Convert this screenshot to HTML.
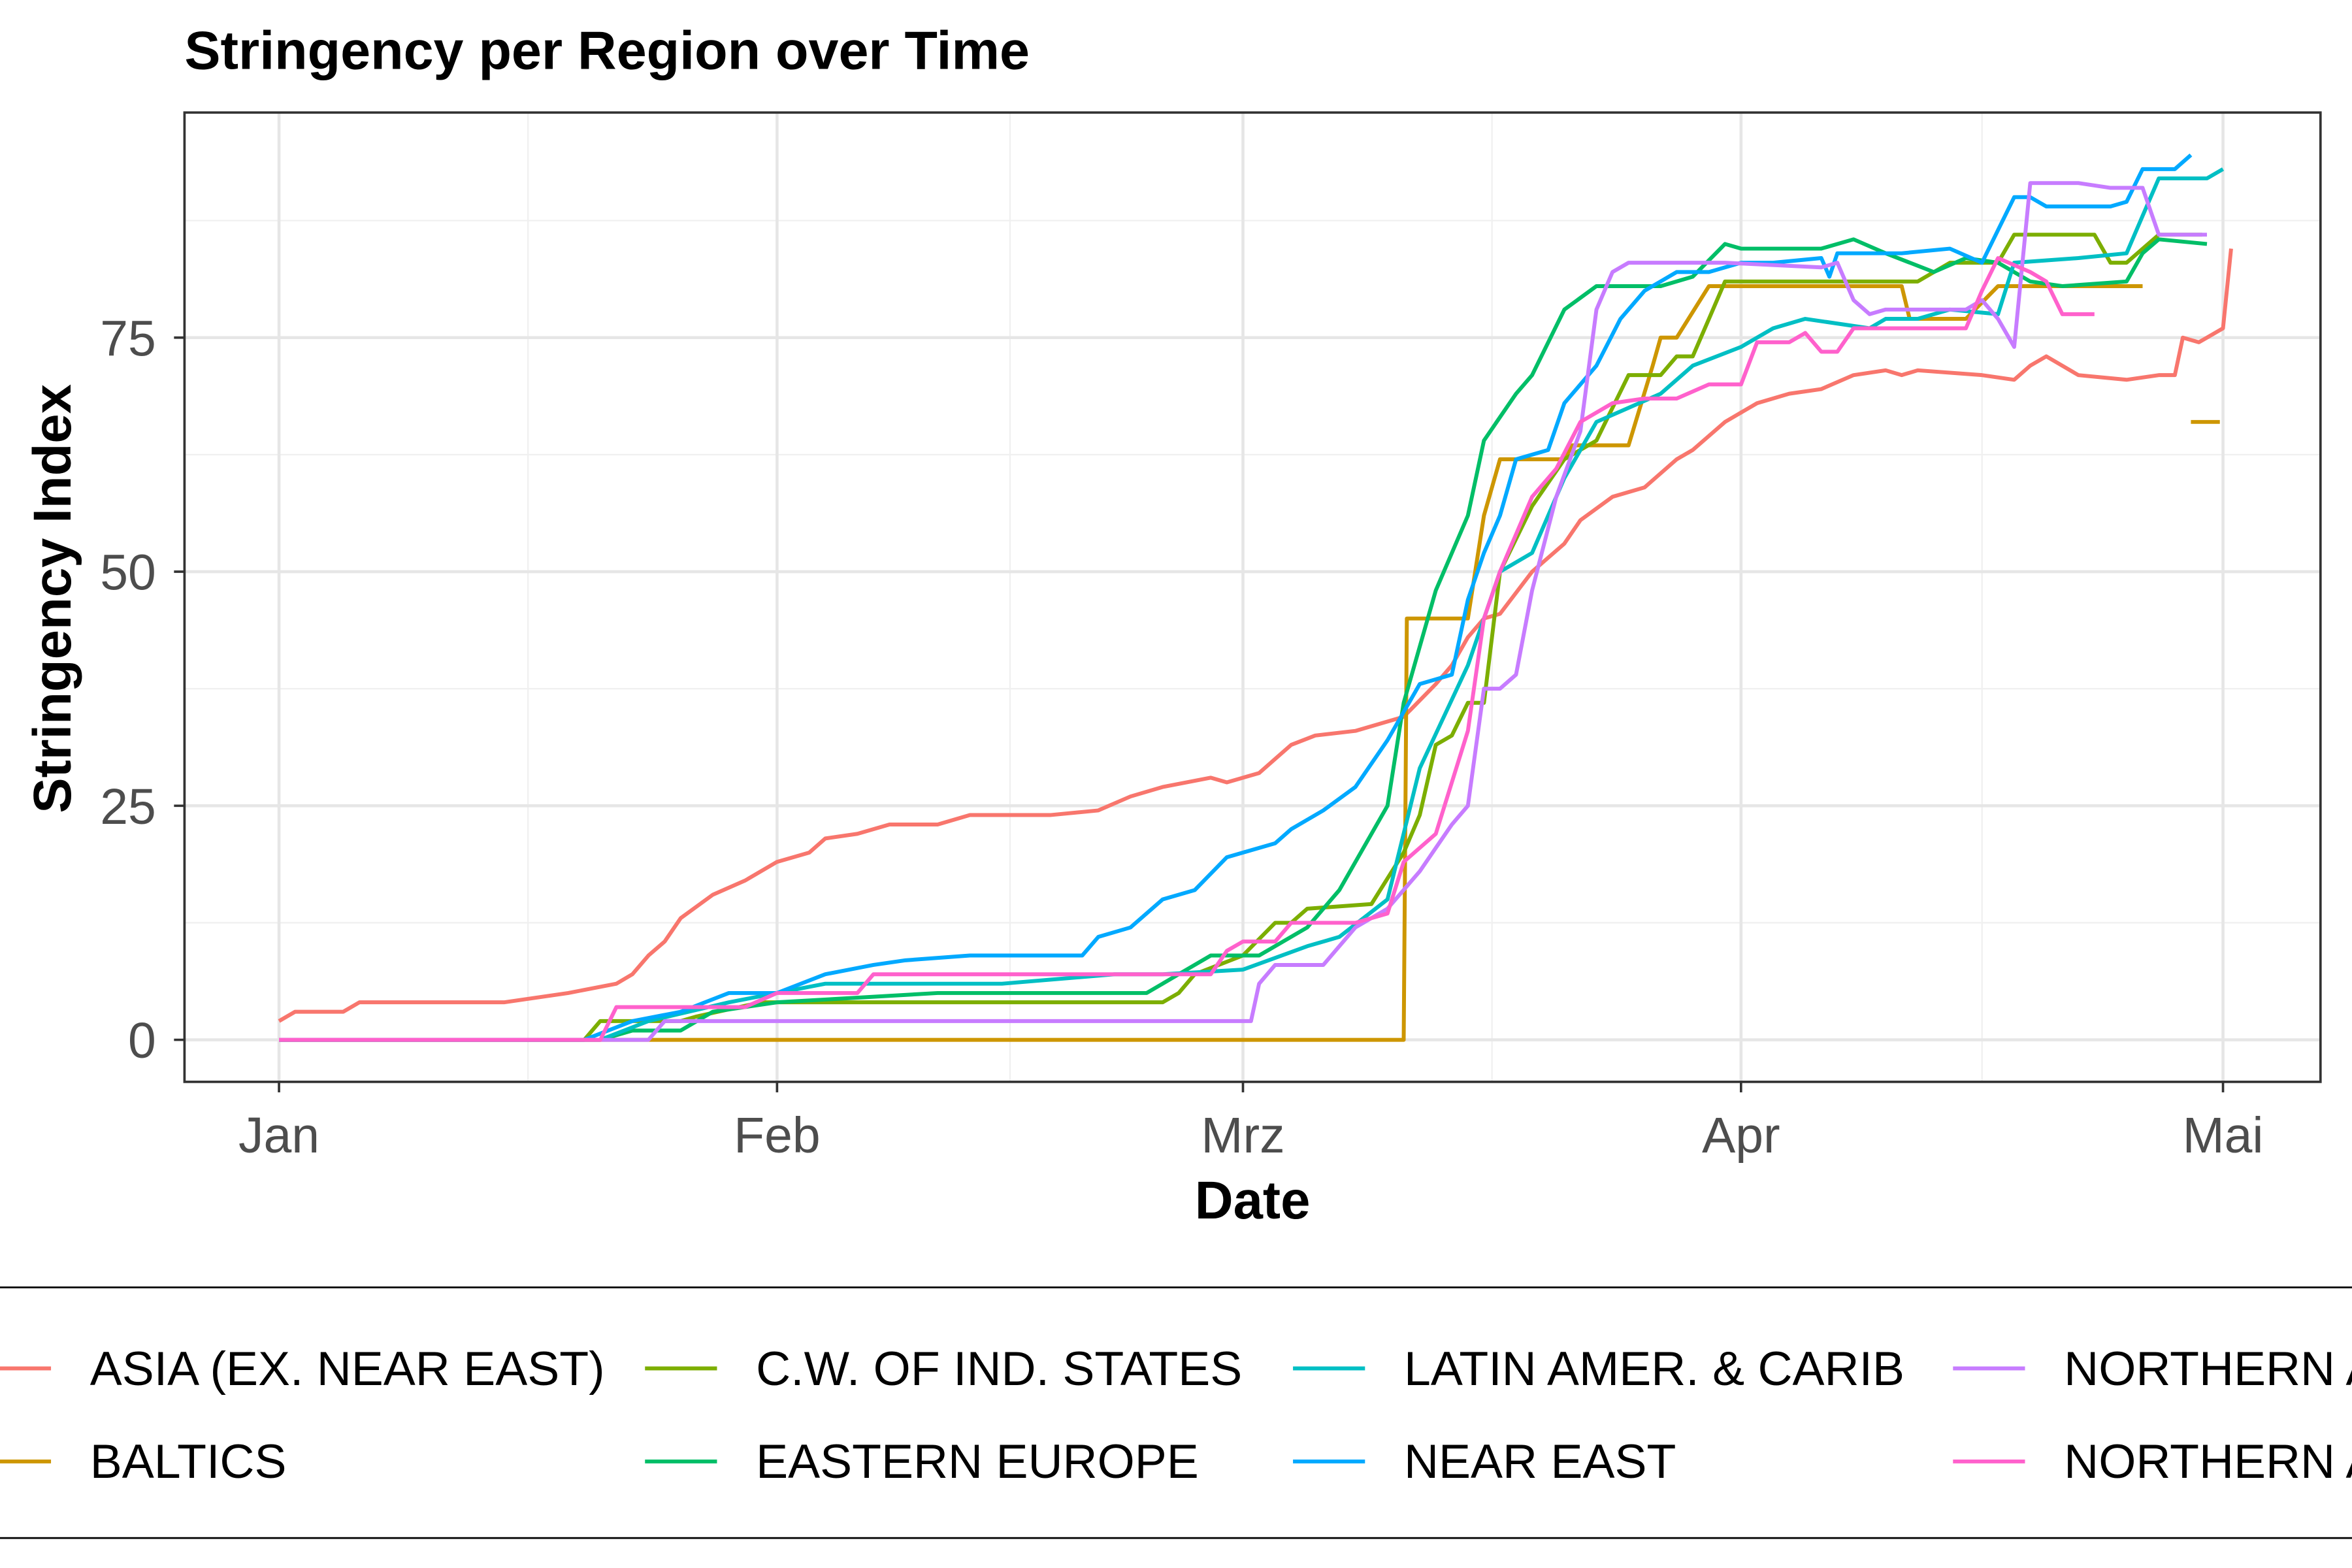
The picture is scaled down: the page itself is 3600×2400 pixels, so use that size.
<!DOCTYPE html>
<html><head><meta charset="utf-8"><style>
html,body{margin:0;padding:0;background:#fff}
svg{display:block}
text{font-family:"Liberation Sans",Arial,sans-serif}
</style></head><body>
<svg id="chart" xmlns="http://www.w3.org/2000/svg" width="3600" height="2400" viewBox="0 0 1568 1045" preserveAspectRatio="none">
<rect width="1568" height="1045" fill="#fff"/>
<text x="123" y="46" font-size="36" font-weight="bold">Stringency per Region over Time</text>
<g id="grid"></g>
<g id="series"></g>
<rect x="123" y="75" width="1424" height="646" fill="none" stroke="#333" stroke-width="1.6"/>
<g id="axes"></g>
<text x="835" y="812" font-size="35.5" font-weight="bold" text-anchor="middle">Date</text>
<text transform="translate(47,399) rotate(-90)" font-size="35.5" font-weight="bold" text-anchor="middle">Stringency Index</text>
<line x1="0" y1="858" x2="1568" y2="858" stroke="#000" stroke-width="1.2"/>
<line x1="0" y1="1025" x2="1568" y2="1025" stroke="#000" stroke-width="1.2"/>
<g id="legend"></g>
</svg>
<script>
const xTickDays=[0,31,60,91,121];
const xTickLabels=["Jan","Feb","Mrz","Apr","Mai"];
const xMinorDays=[15.5,45.5,75.5,106];
const yTicks=[0,25,50,75];
const yMinor=[12.5,37.5,62.5,87.5];
const seriesNames=["ASIA (EX. NEAR EAST)","BALTICS","C.W. OF IND. STATES","EASTERN EUROPE","LATIN AMER. & CARIB","NEAR EAST","NORTHERN AFRICA","NORTHERN AMERICA"];
const seriesColors=["#F8766D","#CD9600","#7CAE00","#00BE67","#00BFC4","#00A9FF","#C77CFF","#FF61CC"];
const asiaDays=[0,1,4,5,14,16,18,21,22,23,24,25,27,29,31,33,34,36,38,41,43,48,51,53,55,58,59,61,62,63,64.5,67,70,72,73,74,75,76,78,80,81,83,85,87,88,90,92,94,96,98,100,101,102,106,108,109,110,112,115,117,118,118.5,119.5,120,121,121.5];
const asiaVals=[2,3,3,4,4,4.5,5,6,7,9,10.5,13,15.5,17,19,20,21.5,22,23,23,24,24,24.5,26,27,28,27.5,28.5,30,31.5,32.5,33,34.5,38,40,43,45,45.5,50,53,55.5,58,59,62,63,66,68,69,69.5,71,71.5,71,71.5,71,70.5,72,73,71,70.5,71,71,75,74.5,75,76,84.5];
const balticDays=[0,70,70.2,74,75,76,80,80.5,84,85.5,86,87,89,101,101.5,105,107,116,null,119,120.8];
const balticVals=[0,0,45,45,56,62,62,63.5,63.5,72,75,75,80.5,80.5,77,77,80.5,80.5,null,66,66];
const cwDays=[0,19,20,25,26,30,55,56,57,60,62,63,64,68,70,71,72,73,74,75,76,78,80,82,84,86,87,88,89,90,102,104,107,108,113,114,115,117,119.7];
const cwVals=[0,0,2,2,2.5,4,4,5,7,9,12.5,12.5,14,14.5,20,24,31.5,32.5,36,36,50,57,62,64,71,71,73,73,77,81,81,83,83,86,86,83,83,86,86];
const eeDays=[0,20,22,25,27,31,41,54,56,58,61,64,66,69,70,72,74,75,77,78,80,82,86,88,90,91,96,98,100,103,105,107,109,111,115,116,117,120];
const eeVals=[0,0,1,1,3,4,5,5,7,9,9,12,16,25,36,48,56,64,69,71,78,80.5,80.5,81.5,85,84.5,84.5,85.5,84,82,83.5,83,81,80.5,81,84,85.5,85];
const latDays=[0,20,23,28,34,45,52,55,60,64,66,69,71,74,76,78,80,82,84,86,88,91,93,95,99,100,102,104,107,108,112,115,116,117,120,121];
const latVals=[0,0,2,4,6,6,7,7,7.5,10,11,15,29,40,50,52,60,66,67.5,69,72,74,76,77,76,77,77,78,77.5,83,83.5,84,88,92,92,93];
const neDays=[0,19,22,25,28,31,34,37,39,43,50,51,53,55,57,59,60,62,63,65,67,69,71,73,74,75,76,77,79,80,82,83.5,85,87,89,91,93,96,96.5,97,101,104,106,108,109,110,114,115,116,118,119];
const neVals=[0,0,2,3,5,5,7,8,8.5,9,9,11,12,15,16,19.5,20,21,22.5,24.5,27,32,38,39,47,52,56,62,63,68,72,77,80,82,82,83,83,83.5,81.5,84,84,84.5,83,90,90,89,89,89.5,93,93,94.5];
const naDays=[0,23,24,60.5,61,62,65,67,69,71,73,74,75,76,77,78,79.5,81,82,83,84,90,96,97,98,99,100,105,106,107,108,109,112,114,116,117,120];
const naVals=[0,0,2,2,6,8,8,12,14,18,23,25,37.5,37.5,39,48,58,65,78,82,83,83,82.5,83,79,77.5,78,78,79,77,74,91.5,91.5,91,91,86,86];
const amDays=[0,20,21,29,31,36,37,58,59,60,62,63,67,69,70,72,74,75,76,78,79.5,81,83,85,87,89,91,92,94,95,96,97,98,105,106,107,109,110,111,113];
const amVals=[0,0,3.5,3.5,5,5,7,7,9.5,10.5,10.5,12.5,12.5,13.5,19,22,33,45,50,58,61,66,68,68.5,68.5,70,70,74.5,74.5,75.5,73.5,73.5,76,76,80,83.5,82,81,77.5,77.5];
const allDays=[asiaDays,balticDays,cwDays,eeDays,latDays,neDays,naDays,amDays];
const allVals=[asiaVals,balticVals,cwVals,eeVals,latVals,neVals,naVals,amVals];

const NS="http://www.w3.org/2000/svg";
const xS=d=>186+d*(1482-186)/121;
const yS=v=>693-v*6.24;
function mk(tag,attrs,parent){const e=document.createElementNS(NS,tag);for(const k in attrs)e.setAttribute(k,attrs[k]);parent.appendChild(e);return e;}
const grid=document.getElementById('grid'),axes=document.getElementById('axes'),ser=document.getElementById('series'),leg=document.getElementById('legend');
yMinor.forEach(v=>{const l=mk('line',{x1:123,x2:1547,y1:yS(v),y2:yS(v),stroke:'#f0f0f0','stroke-width':1},grid);

});
xMinorDays.forEach(d=>{const l=mk('line',{x1:xS(d),x2:xS(d),y1:75,y2:721,stroke:'#f0f0f0','stroke-width':1},grid);

});
yTicks.forEach(v=>{const l=mk('line',{x1:123,x2:1547,y1:yS(v),y2:yS(v),stroke:'#e6e6e6','stroke-width':2},grid);


const t=mk('line',{x1:116,x2:123,y1:yS(v),y2:yS(v),stroke:'#333','stroke-width':1.6},axes);


const tx=mk('text',{x:104,y:yS(v)+12,'font-size':33.5,fill:'#4d4d4d','text-anchor':'end'},axes);tx.textContent=String(v);

});
xTickDays.forEach((d,i)=>{const l=mk('line',{x1:xS(d),x2:xS(d),y1:75,y2:721,stroke:'#e6e6e6','stroke-width':2},grid);


const t=mk('line',{x1:xS(d),x2:xS(d),y1:721,y2:728,stroke:'#333','stroke-width':1.6},axes);


const tx=mk('text',{x:xS(d),y:768,'font-size':33.5,fill:'#4d4d4d','text-anchor':'middle'},axes);tx.textContent=xTickLabels[i];

});
allDays.forEach((days,s)=>{let d='',pen=false;
days.forEach((dd,i)=>{const v=allVals[s][i];if(dd===null||v===null){pen=false;return;}d+=(pen?'L':'M')+xS(dd).toFixed(1)+' '+yS(v).toFixed(1)+' ';pen=true;});
const p=mk('path',{d:d,fill:'none',stroke:seriesColors[s],'stroke-width':2.6,'stroke-linejoin':'round'},ser);

});
const colKey=[-14,430,862,1302];
seriesNames.forEach((n,i)=>{const col=Math.floor(i/2),row=i%2;const y=row?974:912;const kx=colKey[col];
const g=mk('g',{},leg);


mk('line',{x1:kx,x2:kx+48,y1:y,y2:y,stroke:seriesColors[i],'stroke-width':2.6},g);
const t=mk('text',{x:kx+74,y:y+11,'font-size':32,fill:'#000'},g);t.textContent=n;});
</script>
</body></html>
